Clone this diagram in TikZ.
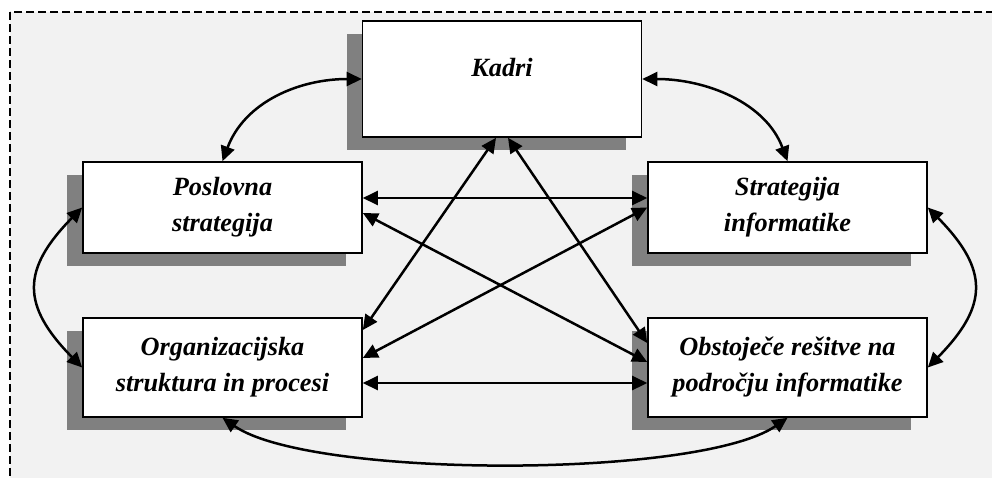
\documentclass[tikz,border=0pt]{standalone}
\usepackage{fontspec}
\setmainfont{Liberation Serif}
\usetikzlibrary{arrows.meta,calc,shadows}
\definecolor{panelgray}{HTML}{F2F2F2}
\definecolor{shadegray}{HTML}{808080}
\begin{document}
\begin{tikzpicture}[x=1pt,y=-1pt,
  topic/.style={draw=black,line width=1.6pt,fill=white,inner sep=0pt,
    minimum width=279pt,align=center,
    font=\fontsize{26.3}{36}\selectfont\bfseries\itshape,
    drop shadow={shadow xshift=-16pt,shadow yshift=-13pt,fill=shadegray,opacity=1}},
  link/.style={line width=2.5pt,{Triangle[length=15pt,width=14pt]}-{Triangle[length=15pt,width=14pt]}}]
  \useasboundingbox (0,0) rectangle (992,477);
  \clip (0,0) rectangle (992,477);
  % dashed panel behind everything
  \draw[fill=panelgray,line width=1.4pt,dash pattern=on 8pt off 4pt] (10,12) rectangle (1010,500);

  % boxes
  \node[topic,minimum height=116pt,text height=55pt,text depth=61pt] (K) at (502,79) {Kadri};
  \node[topic,minimum height=91pt] (P) at (222.5,207.5) {Poslovna\\strategija};
  \node[topic,minimum height=91pt] (S) at (787.5,207.5) {Strategija\\informatike};
  \node[topic,minimum height=99pt] (O) at (222.5,367.5) {Organizacijska\\struktura in procesi};
  \node[topic,minimum height=99pt] (R) at (787.5,367.5) {Obstoječe rešitve na\\področju informatike};

  % curved links around the outside
  \draw[link] (P.north) .. controls ($(P.north)+(22,-59)$) and ($(K.west)+(-63,0)$) .. (K.west);
  \draw[link] (S.north) .. controls ($(S.north)+(-22,-59)$) and ($(K.east)+(63,0)$) .. (K.east);
  \draw[link] (P.west) .. controls ($(P.west)+(-61,62)$) and ($(O.west)+(-61,-62)$) .. (O.west);
  \draw[link] (S.east) .. controls ($(S.east)+(61,62)$) and ($(R.east)+(61,-62)$) .. (R.east);
  \draw[link] (O.south) .. controls ($(O.south)+(88,61)$) and ($(R.south)+(-88,61)$) .. (R.south);

  % straight links between the boxes
  \draw[link] ([yshift=9.5pt]P.east) -- ([yshift=9.5pt]S.west);
  \draw[link] ([yshift=-15.5pt]O.east) -- ([yshift=-15.5pt]R.west);
  \draw[link] ([xshift=-6pt]K.south) -- ([yshift=37.5pt]O.east);
  \draw[link] ([xshift=6pt]K.south) -- ([yshift=24.5pt]R.west);
  \draw[link] ([yshift=-5.5pt]P.east) -- ([yshift=5.5pt]R.west);
  \draw[link] (S.west) -- ([yshift=9.5pt]O.east);
\end{tikzpicture}
\end{document}
